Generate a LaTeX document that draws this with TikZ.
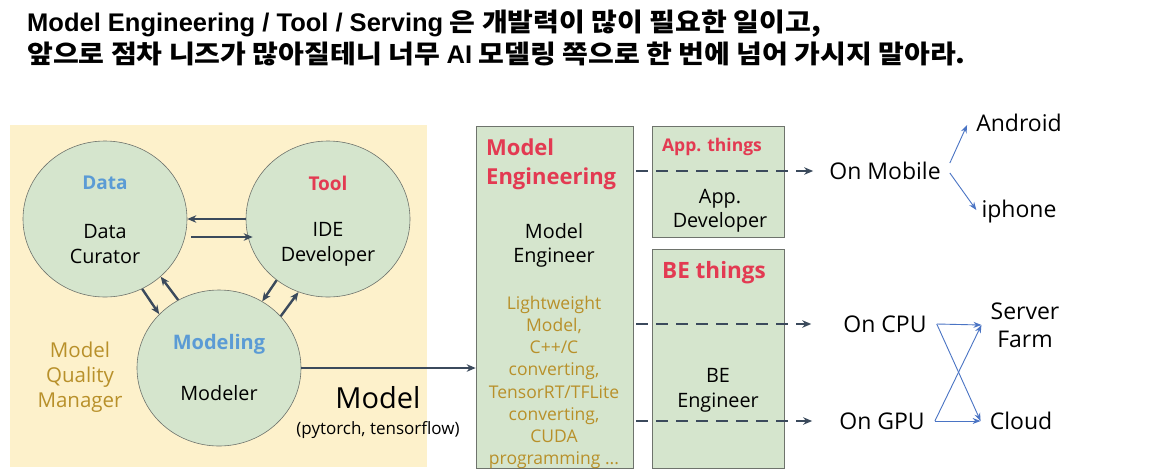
\documentclass[tikz,border=0pt]{standalone}
\usepackage{fontspec}
\setmainfont{Open Sans}
\newfontfamily\krfont[FakeStretch=1.1]{Noto Sans CJK KR}
\newfontfamily\latfont{Liberation Sans}
\usetikzlibrary{arrows.meta,shapes.geometric}

\definecolor{bgyellow}{HTML}{FDF1CB}
\definecolor{cellgreen}{HTML}{D5E5CD}
\definecolor{edgegray}{HTML}{6E736C}
\definecolor{darkslate}{HTML}{3B4A5C}
\definecolor{headred}{HTML}{E33A52}
\definecolor{headblue}{HTML}{5B9BD5}
\definecolor{gold}{HTML}{B8902A}
\definecolor{linkblue}{HTML}{4A74C4}

\newcommand{\fs}[2]{\fontsize{#1}{#2}\selectfont}

\tikzset{
  role/.style={ellipse, draw=edgegray, line width=0.6pt, fill=cellgreen,
    minimum width=164pt, minimum height=156pt, inner sep=0pt},
  area/.style={rectangle, draw=edgegray, line width=0.6pt, fill=cellgreen, inner sep=0pt},
  label/.style={inner sep=0pt, align=center},
  flow/.style={draw=darkslate, line width=2.4pt, -{Stealth[length=9pt,width=7.5pt]}},
  handoff/.style={draw=darkslate, line width=2.4pt, dash pattern=on 12pt off 8pt,
    -{Stealth[length=9pt,width=7.5pt]}},
  target/.style={draw=linkblue, line width=0.9pt, -{Stealth[length=8pt,width=6pt]}},
}

\begin{document}
\begin{tikzpicture}[x=1pt,y=-1pt]
\useasboundingbox[fill=white] (0,0) rectangle (1159,475);

% headline
\node[anchor=west, inner sep=0pt, font=\bfseries\fs{25.5}{30}] (title1) at (27,24)
  {{\latfont Model Engineering / Tool / Serving} {\krfont 은 개발력이 많이 필요한 일이고,}};
\node[anchor=west, inner sep=0pt, font=\bfseries\fs{25.5}{30}] (title2) at (27,54)
  {{\krfont 앞으로 점차 니즈가 많아질테니 너무} {\latfont AI} {\krfont 모델링 쪽으로 한 번에 넘어 가시지 말아라.}};

% modeling team area
\node[rectangle, fill=bgyellow, minimum width=417pt, minimum height=342pt, inner sep=0pt] (team) at (218.5,296) {};

\node[role] (data) at (105,219) {};
\node[role] (tool) at (328,219) {};
\node[role] (modeling) at (219,368) {};

\node[label, text=headblue, font=\bfseries\fs{19}{24}] (datahead) at (105,183) {Data};
\node[label, font=\fs{19.8}{25}] (datarole) at (105,244.5) {Data\\Curator};
\node[label, text=headred, font=\bfseries\fs{19}{24}] (toolhead) at (328,183) {Tool};
\node[label, font=\fs{19.8}{25}] (toolrole) at (328,244.5) {IDE\\Developer};
\node[label, text=headblue, font=\bfseries\fs{20}{24}] (modelinghead) at (219,344) {Modeling};
\node[label, font=\fs{19.8}{24}] (modelingrole) at (219,393) {Modeler};

\node[label, text=gold, font=\fs{20.5}{25}] (quality) at (80,377) {Model\\Quality\\Manager};

% exchanges between the three roles
\draw[flow] (tool.180) -- (data.0);
\draw[flow] ([shift={(4,18)}]data.east) -- ([shift={(7,18)}]tool.west);
\draw[flow] (data.-62) -- (modeling.138);
\draw[flow] (modeling.121) -- (data.-46);
\draw[flow] (tool.-130) -- (modeling.57);
\draw[flow] (modeling.40) -- (tool.-112);

% model engineering column
\node[area, minimum width=157pt, minimum height=342pt] (me) at (554.5,297) {};
\node[label, anchor=west, align=left, text=headred, font=\bfseries\fs{22}{29}] (mehead) at (486,164.5) {Model\\Engineering};
\node[label, font=\fs{19.8}{24}] (merole) at (554,245) {Model\\Engineer};
\node[label, text=gold, font=\fs{17.5}{22.2}] (metasks) at (554,382.5)
  {Lightweight\\Model,\\C++/C\\converting,\\TensorRT/TFLite\\converting,\\CUDA\\programming ...};

\draw[flow, line width=2pt] (modeling.east) -- (modeling.east -| me.west);
\node[label, font=\fs{29}{34}] (model) at (378,398) {Model};
\node[label, font=\fs{17}{20}] (frameworks) at (378,430) {(pytorch, tensorflow)};

% app and backend columns
\node[area, minimum width=132pt, minimum height=111pt] (app) at (718,181.5) {};
\node[label, text=headred, font=\bfseries\fs{17.5}{20}] (apphead) at (712,147) {App. things};
\node[label, font=\fs{19.8}{24}] (approle) at (720,211) {App.\\Developer};

\node[area, minimum width=132pt, minimum height=219pt] (be) at (718,358.5) {};
\node[label, text=headred, font=\bfseries\fs{22.5}{26}] (behead) at (714,273) {BE things};
\node[label, font=\fs{19.8}{25}] (berole) at (718,390.5) {BE\\Engineer};

% serving targets
\node[label, font=\fs{23}{26}] (mobile) at (885,171) {On Mobile};
\node[label, font=\fs{23}{26}] (cpu) at (885,324) {On CPU};
\node[label, font=\fs{23}{26}] (gpu) at (882,421) {On GPU};

\node[label, font=\fs{23}{26}] (android) at (1019,123) {Android};
\node[label, font=\fs{23}{26}] (iphone) at (1019,212) {iphone};
\node[label, font=\fs{23}{28}] (farm) at (1025,325) {Server\\Farm};
\node[label, font=\fs{23}{26}] (cloud) at (1021,421) {Cloud};

\draw[handoff] ([xshift=3pt]me.east |- mobile) -- ([xshift=-16pt]mobile.west);
\draw[handoff] ([xshift=3pt]me.east |- cpu) -- ([xshift=-32pt]cpu.west);
\draw[handoff] ([xshift=3pt]me.east |- gpu) -- ([xshift=-27pt]gpu.west);

\draw[target] ([shift={(9,-8)}]mobile.east) -- ([shift={(-9,2)}]android.west);
\draw[target] ([shift={(9,2)}]mobile.east) -- ([shift={(-5,-2)}]iphone.west);

\draw[target] ([xshift=10pt]cpu.east) -- ([xshift=-9pt]farm.west);
\draw[target] ([xshift=10pt]cpu.east) -- ([xshift=-9pt]cloud.west);
\draw[target] ([xshift=10pt]gpu.east) -- ([xshift=-9pt]cloud.west);
\draw[target] ([xshift=10pt]gpu.east) -- ([xshift=-9pt]farm.west);
\end{tikzpicture}
\end{document}
